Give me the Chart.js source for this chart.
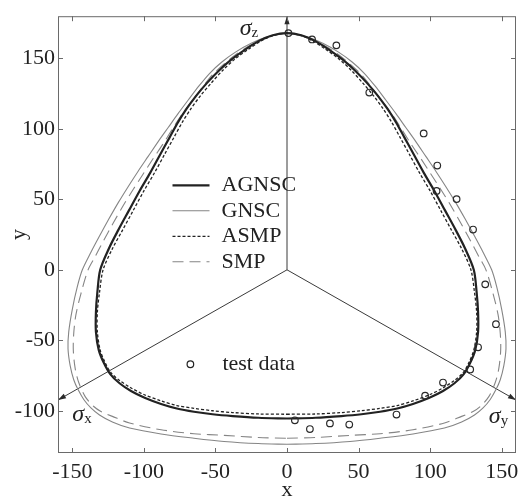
<!DOCTYPE html>
<html>
<head>
<meta charset="utf-8">
<script src="https://cdn.jsdelivr.net/npm/chart.js@4.4.1/dist/chart.umd.min.js"></script>
<style>
    html, body { margin: 0; padding: 0; background: #ffffff; }
    #wrap { width: 527px; height: 499px; }
</style>
</head>
<body>
<div id="wrap"><canvas id="yieldChart" width="527" height="499"></canvas></div>
<script>
// Values, [x, y] pairs. Each curve is a closed loop
// starting at the bottom, going up the right side and back down the left.
const xTickValues = [-150, -100, -50, 0, 50, 100, 150];
const yTickValues = [-100, -50, 0, 50, 100, 150];

const agnscPoints = [
    [0, -105.5], [20, -105], [38, -103.8], [52, -102.5], [65, -100.7], [77, -98.4],
    [88, -95.2], [99.5, -90.8], [109, -86], [117, -80.5], [123.5, -74], [128, -66],
    [131.5, -57], [133.5, -44], [133.5, -30], [132.5, -16], [130.5, 0],
    [124.5, 15], [118, 28], [110.5, 42], [103, 56], [95.5, 69], [88.5, 82], [82, 94],
    [76, 105], [70, 114.5], [63.5, 123.5], [56, 132.5], [47.5, 141.5], [38.5, 149.5],
    [29, 156.5], [19.5, 162.5], [10, 166.5], [0, 168],
    [-10, 166.5], [-19.5, 162.5], [-29, 156.5], [-38.5, 149.5], [-47.5, 141.5],
    [-56, 132.5], [-63.5, 123.5], [-70, 114.5], [-76, 105], [-82, 94], [-88.5, 82],
    [-95.5, 69], [-103, 56], [-110.5, 42], [-118, 28], [-124.5, 15], [-130.5, 0],
    [-132.5, -16], [-133.5, -30], [-133.5, -44], [-131.5, -57], [-128, -66],
    [-123.5, -74], [-117, -80.5], [-109, -86], [-99.5, -90.8], [-88, -95.2],
    [-77, -98.4], [-65, -100.7], [-52, -102.5], [-38, -103.8], [-20, -105], [0, -105.5],
];

const gnscPoints = [
    [0, -123.8], [20, -123.3], [44, -121.8], [65, -119.5], [88, -116.5], [110, -112.3],
    [122, -108], [131, -103], [137, -98], [142, -92], [146, -85], [149, -78],
    [151.5, -68], [153, -56], [152.5, -44], [150, -28], [146.5, -12], [143, 0],
    [137, 12.5], [131, 24], [124.5, 36], [118, 47.5], [111, 59], [104, 70],
    [97, 80.5], [90, 91], [83, 101], [76, 111], [69, 120.5], [61.5, 130.5],
    [54, 139.5], [45.5, 147.5], [36, 154.5], [25, 160.8], [13, 165.5], [0, 168],
    [-13, 165.5], [-25, 160.8], [-36, 154.5], [-45.5, 147.5], [-54, 139.5],
    [-61.5, 130.5], [-69, 120.5], [-76, 111], [-83, 101], [-90, 91], [-97, 80.5],
    [-104, 70], [-111, 59], [-118, 47.5], [-124.5, 36], [-131, 24], [-137, 12.5],
    [-143, 0], [-146.5, -12], [-150, -28], [-152.5, -44], [-153, -56],
    [-151.5, -68], [-149, -78], [-146, -85], [-142, -92], [-137, -98], [-131, -103],
    [-122, -108], [-110, -112.3], [-88, -116.5], [-65, -119.5], [-44, -121.8],
    [-20, -123.3], [0, -123.8],
];

const asmpPoints = [
    [0, -102.5], [20, -102.3], [38, -101.3], [52, -100], [65, -98.3], [77, -96.3],
    [88, -93], [100, -88.5], [109.5, -83.5], [117, -78.5], [123, -73], [127, -66],
    [130.5, -57], [132.5, -44], [132.5, -30], [131, -16], [128.5, 0],
    [122, 15], [115, 28], [107.5, 42], [100, 56], [92.5, 69], [85.5, 82], [79, 94],
    [73, 105], [67, 114.5], [60.5, 123.5], [53, 132.5], [45, 141.5], [36.5, 149.5],
    [27, 156.5], [18, 162.5], [9, 166.5], [0, 168],
    [-9, 166.5], [-18, 162.5], [-27, 156.5], [-36.5, 149.5], [-45, 141.5],
    [-53, 132.5], [-60.5, 123.5], [-67, 114.5], [-73, 105], [-79, 94], [-85.5, 82],
    [-92.5, 69], [-100, 56], [-107.5, 42], [-115, 28], [-122, 15], [-128.5, 0],
    [-131, -16], [-132.5, -30], [-132.5, -44], [-130.5, -57], [-127, -66],
    [-123, -73], [-117, -78.5], [-109.5, -83.5], [-100, -88.5], [-88, -93],
    [-77, -96.3], [-65, -98.3], [-52, -100], [-38, -101.3], [-20, -102.3], [0, -102.5],
];

const smpPoints = [
    [0, -119.5], [20, -119], [44, -117.5], [65, -116.3], [88, -113.5], [110, -108.7],
    [122, -104], [130, -100.5], [135, -97], [141, -90], [145.5, -80], [148, -70],
    [149.3, -57], [149, -45], [147.5, -32], [144, -17], [139, 0],
    [134, 9.5], [128, 21], [121.5, 33], [114.5, 45.5], [107.5, 57], [100.5, 68],
    [93.5, 79], [86.5, 89.5], [80, 100], [74, 109.5], [67, 119], [59.5, 129],
    [52, 138.5], [43.5, 146.5], [34.5, 153.8], [24, 160.3], [12.5, 165.3], [0, 168],
    [-12.5, 165.3], [-24, 160.3], [-34.5, 153.8], [-43.5, 146.5], [-52, 138.5],
    [-59.5, 129], [-67, 119], [-74, 109.5], [-80, 100], [-86.5, 89.5], [-93.5, 79],
    [-100.5, 68], [-107.5, 57], [-114.5, 45.5], [-121.5, 33], [-128, 21],
    [-134, 9.5], [-139, 0], [-144, -17], [-147.5, -32], [-149, -45], [-149.3, -57],
    [-148, -70], [-145.5, -80], [-141, -90], [-135, -97], [-130, -100.5],
    [-122, -104], [-110, -108.7], [-88, -113.5], [-65, -116.3], [-44, -117.5],
    [-20, -119], [0, -119.5],
];

const testDataPoints = [
    [1, 168], [17.5, 163.5], [34.5, 159.3], [57.5, 125.8], [95.5, 96.8], [105, 74],
    [104.5, 56], [118.5, 50.2], [130, 28.6], [138.5, -10.3], [146, -38.6],
    [133.5, -55], [128, -70.7], [109, -80], [96.5, -89.3], [76.5, -102.7],
    [5.5, -106.8], [16, -113], [30, -109], [43.5, -109.8],
];

// principal stress axes in the pi-plane, origin to plot edge
const sigmaZAxis = [[0, 0], [0, 180]];
const sigmaXAxis = [[0, 0], [-160, -92.4]];
const sigmaYAxis = [[0, 0], [160, -92.4]];

const dark = '#222222';
const gray = '#858585';
const frameColor = '#6a6a6a';
const serif = '"Liberation Serif", "Times New Roman", serif';

function toPoints(pairs) {
    return pairs.map(([x, y]) => ({ x, y }));
}

function curve(label, pairs, color, width, dash) {
    return {
        label,
        data: toPoints(pairs),
        showLine: true,
        fill: false,
        borderColor: color,
        borderWidth: width,
        borderDash: dash || [],
        pointRadius: 0,
        tension: 0.3,
    };
}

function axisLine(name, pairs) {
    return {
        label: name,
        data: toPoints(pairs),
        showLine: true,
        isSigmaAxis: true,
        borderColor: '#3a3a3a',
        borderWidth: 1,
        pointRadius: 0,
        tension: 0,
    };
}

const legendRows = [
    { text: 'AGNSC', color: dark, width: 2.2, dash: [] },
    { text: 'GNSC', color: gray, width: 1.1, dash: [] },
    { text: 'ASMP', color: dark, width: 1.3, dash: [3, 2] },
    { text: 'SMP', color: gray, width: 1.1, dash: [11, 6] },
];

const sigmaLabels = [
    { sub: 'z', x: -33, y: 167 },
    { sub: 'x', x: -150, y: -107 },
    { sub: 'y', x: 141, y: -109 },
];

// frame, inward ticks, arrowheads, legend and sigma labels
const plotDecor = {
    id: 'plotDecor',
    afterDatasetsDraw(chart) {
        const { ctx, chartArea: a } = chart;
        const sx = chart.scales.x;
        const sy = chart.scales.y;

        ctx.save();

        chart.data.datasets.forEach((ds, i) => {
            if (!ds.isSigmaAxis) return;
            const pts = chart.getDatasetMeta(i).data;
            const tip = pts[pts.length - 1];
            const tail = pts[0];
            const ang = Math.atan2(tip.y - tail.y, tip.x - tail.x);
            const len = 8;
            const half = 2.6;
            ctx.fillStyle = '#2a2a2a';
            ctx.beginPath();
            ctx.moveTo(tip.x, tip.y);
            ctx.lineTo(
                tip.x - len * Math.cos(ang) + half * Math.sin(ang),
                tip.y - len * Math.sin(ang) - half * Math.cos(ang)
            );
            ctx.lineTo(
                tip.x - len * Math.cos(ang) - half * Math.sin(ang),
                tip.y - len * Math.sin(ang) + half * Math.cos(ang)
            );
            ctx.closePath();
            ctx.fill();
        });

        ctx.strokeStyle = frameColor;
        ctx.lineWidth = 1;
        ctx.strokeRect(a.left + 0.5, a.top + 0.5, a.right - a.left - 1, a.bottom - a.top - 1);

        ctx.beginPath();
        xTickValues.forEach((v) => {
            const px = Math.round(sx.getPixelForValue(v)) + 0.5;
            ctx.moveTo(px, a.bottom);
            ctx.lineTo(px, a.bottom - 5);
            ctx.moveTo(px, a.top);
            ctx.lineTo(px, a.top + 5);
        });
        yTickValues.forEach((v) => {
            const py = Math.round(sy.getPixelForValue(v)) + 0.5;
            ctx.moveTo(a.left, py);
            ctx.lineTo(a.left + 5, py);
            ctx.moveTo(a.right, py);
            ctx.lineTo(a.right - 5, py);
        });
        ctx.stroke();

        // legend
        const lx = sx.getPixelForValue(-80);
        const ly = sy.getPixelForValue(60);
        ctx.font = '22px ' + serif;
        ctx.textBaseline = 'middle';
        ctx.textAlign = 'left';
        legendRows.forEach((row, k) => {
            const yy = ly + k * 25.5;
            ctx.strokeStyle = row.color;
            ctx.lineWidth = row.width;
            ctx.setLineDash(row.dash);
            ctx.beginPath();
            ctx.moveTo(lx, yy);
            ctx.lineTo(lx + 37, yy);
            ctx.stroke();
            ctx.setLineDash([]);
            ctx.fillStyle = dark;
            ctx.fillText(row.text, lx + 49, yy);
        });

        const tx = sx.getPixelForValue(-67.5);
        const ty = sy.getPixelForValue(-67);
        ctx.strokeStyle = dark;
        ctx.lineWidth = 1.2;
        ctx.beginPath();
        ctx.arc(tx, ty, 3.3, 0, Math.PI * 2);
        ctx.stroke();
        ctx.fillText('test data', tx + 32, ty);

        // sigma labels
        ctx.textBaseline = 'alphabetic';
        sigmaLabels.forEach((lab) => {
            const px = sx.getPixelForValue(lab.x);
            const py = sy.getPixelForValue(lab.y);
            ctx.font = 'italic 24px ' + serif;
            ctx.fillText('\u03c3', px, py);
            const w = ctx.measureText('\u03c3').width;
            ctx.font = '15px ' + serif;
            ctx.fillText(lab.sub, px + w, py + 2);
        });

        ctx.restore();
    },
};

const tickFont = { family: serif, size: 22 };

new Chart(document.getElementById('yieldChart'), {
    type: 'scatter',
    data: {
        datasets: [
            {
                label: 'test data',
                data: toPoints(testDataPoints),
                showLine: false,
                pointStyle: 'circle',
                pointRadius: 3.3,
                pointBorderWidth: 1.2,
                pointBorderColor: '#2a2a2a',
                pointBackgroundColor: 'rgba(0,0,0,0)',
            },
            curve('AGNSC', agnscPoints, dark, 2.2),
            curve('ASMP', asmpPoints, dark, 1.3, [3, 2]),
            curve('SMP', smpPoints, gray, 1.1, [11, 6]),
            curve('GNSC', gnscPoints, gray, 1.1),
            axisLine('sigma z', sigmaZAxis),
            axisLine('sigma x', sigmaXAxis),
            axisLine('sigma y', sigmaYAxis),
        ],
    },
    options: {
        responsive: false,
        animation: false,
        events: [],
        layout: {
            padding: { top: 9, right: 11, bottom: 0, left: 0 },
        },
        plugins: {
            legend: { display: false },
            tooltip: { enabled: false },
        },
        scales: {
            x: {
                type: 'linear',
                min: -160,
                max: 160,
                afterBuildTicks(scale) {
                    scale.ticks = xTickValues.map((v) => ({ value: v }));
                },
                afterFit(scale) {
                    scale.height = 46;
                },
                grid: { display: false, drawTicks: false },
                border: { display: false },
                ticks: {
                    font: tickFont,
                    color: dark,
                    padding: 6,
                    autoSkip: false,
                    maxRotation: 0,
                },
                title: {
                    display: true,
                    text: 'x',
                    color: dark,
                    font: { family: serif, size: 22, lineHeight: 0.8 },
                    padding: 0,
                },
            },
            y: {
                type: 'linear',
                min: -130,
                max: 180,
                afterBuildTicks(scale) {
                    scale.ticks = yTickValues.map((v) => ({ value: v }));
                },
                afterFit(scale) {
                    scale.width = 58;
                },
                grid: { display: false, drawTicks: false },
                border: { display: false },
                ticks: {
                    font: tickFont,
                    color: dark,
                    padding: 3,
                    autoSkip: false,
                },
                title: {
                    display: true,
                    text: 'y',
                    color: dark,
                    font: { family: serif, size: 22, lineHeight: 1 },
                    padding: { top: 8, bottom: 0 },
                },
            },
        },
    },
    plugins: [plotDecor],
});
</script>
</body>
</html>
